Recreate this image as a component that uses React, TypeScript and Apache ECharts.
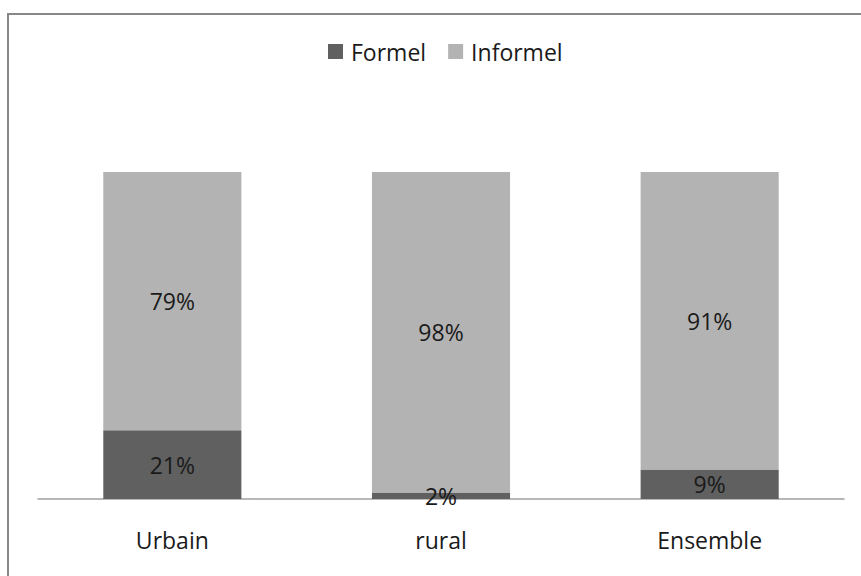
import React, { useEffect, useRef } from "react";
import * as echarts from "echarts";

const categories = ["Urbain", "rural", "Ensemble"];
const formel = [21, 2, 9];
const informel = [79, 98, 91];
const seriesNames = ["Formel", "Informel"];

export default function App() {
  const ref = useRef<HTMLDivElement>(null);
  useEffect(() => {
    const chart = echarts.init(ref.current!, null, { renderer: "svg" });
    const font = "'Open Sans', 'Noto Sans', sans-serif";
    const label = {
      show: true,
      position: "inside",
      formatter: (p: any) => p.value + "%",
      color: "#1a1a1a",
      fontSize: 23,
      fontFamily: font,
    };
    chart.setOption({
      animation: false,
      backgroundColor: "#ffffff",
      graphic: [
        {
          type: "rect",
          shape: { x: 8, y: 14, width: 900, height: 600 },
          style: { fill: "none", stroke: "#878787", lineWidth: 2 },
          silent: true,
        },
      ],
      legend: {
        top: 35,
        left: 323,
        itemWidth: 15,
        itemHeight: 15,
        itemGap: 22,
        icon: "rect",
        textStyle: { fontSize: 23, fontFamily: font, color: "#1a1a1a", padding: [0, 0, 0, 3] },
        data: seriesNames,
      },
      grid: { left: 38, right: 17, top: 172, bottom: 77 },
      xAxis: {
        type: "category",
        data: categories,
        axisLine: { lineStyle: { color: "#a0a0a0", width: 1.5 } },
        axisTick: { show: false },
        axisLabel: { fontSize: 23, fontFamily: font, color: "#1a1a1a", margin: 29 },
      },
      yAxis: {
        type: "value",
        min: 0,
        max: 100,
        show: false,
        splitLine: { show: false },
      },
      series: [
        {
          name: seriesNames[0],
          type: "bar",
          stack: "t",
          data: formel,
          barWidth: "51.4%",
          itemStyle: { color: "#606060" },
          label,
        },
        {
          name: seriesNames[1],
          type: "bar",
          stack: "t",
          data: informel,
          barWidth: "51.4%",
          itemStyle: { color: "#b3b3b3" },
          label,
        },
      ],
    });
    return () => chart.dispose();
  }, []);
  return <div ref={ref} style={{ width: 861, height: 576, position: "absolute", left: 0, top: 0 }} />;
}
